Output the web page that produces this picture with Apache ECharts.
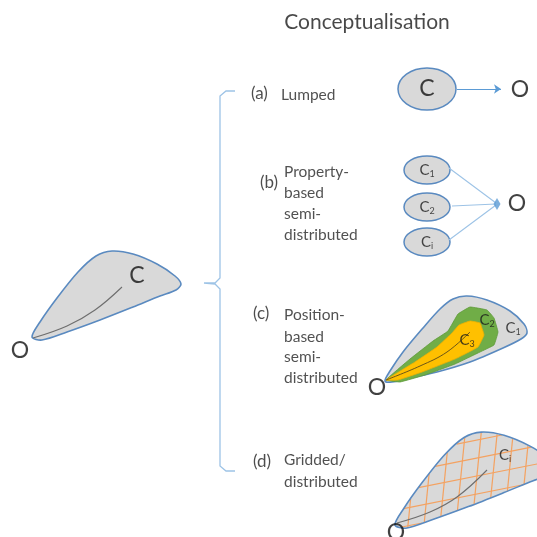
<!DOCTYPE html>
<html>
<head>
<meta charset="utf-8">
<title>Conceptualisation</title>
<script src="https://cdn.jsdelivr.net/npm/echarts@6/dist/echarts.min.js"></script>
<style>
html,body{margin:0;padding:0;background:#fff}
#main{width:537px;height:537px}
</style>
</head>
<body>
<div id="main"></div>
<script>
// catchment outline (main picture), tip = outlet
var catchment = [[32,337],[40,322],[57,298],[78,272],[96,256],[112,251],[133,254],[157,264],[175,276],[181,284],[176,290],[160,296],[133,307],[100,320],[67,332],[42,340]];
// where the same outline is copied for (d): [dx, dy, scale]
var placeD = [360.4, 161.0, 1.08];
// catchment and zones in (c)
var outlineC = [[385,381],[390,371],[403,352],[423,328],[440,309],[453,299],[467,296],[487,300],[510,311],[524,324],[527,333],[521,339],[503,348],[470,362],[437,372],[410,378],[392,382]];
var zoneC2 = [[386,380],[410,359],[433,341],[448,331],[458,314],[470,307],[487,310],[494,318],[498,332],[494,345],[480,352],[455,364],[425,375],[400,382]];
var zoneC3 = [[386,380],[415,362],[437,347],[452,333],[459,325],[470,321],[480,323],[484,335],[478,347],[455,359],[422,372],[398,380]];
// flow paths
var flowMain = [[33,338],[67,326],[95,310],[122,287]];
var flowC = [[386,380],[420,366],[447,352],[470,332]];
var flowD = [[397,523],[430,512],[457,497],[487,470]];
// grid cells in (d)
var gridColX = [381, 397, 413, 429, 445, 461, 477, 493, 509, 525, 541];
var gridRowY = [410, 428, 446, 464, 482, 500, 518, 536];
// brace
var brace = [[235,91],[226,91],[220,96],[220,278],[215,283],[204,283],[215,284],[220,289],[220,466],[226,471],[235,471]];
// (a) and (b)
var lumpedCell = [[427,89]];
var lumpedArrow = [[457,89],[501,89]];
var propertyCells = [[427,170],[427,207],[427,242]];
var propertyLinks = [[[449,168],[496,203]],[[452,206],[496,204]],[[449,240],[496,205]]];
var propertyOutlet = [[497,204]];
// texts
var titleText = [[367,22,'Conceptualisation']];
var bigLetters = [[427,89,'C'],[520,90,'O'],[517,204,'O'],[137,276,'C'],[20,351,'O'],[377,388,'O'],[396,533,'O']];
var caseLabels = [[251,94,'(a)'],[260,183,'(b)'],[253,314,'(c)'],[253,462,'(d)']];
var caseWords = [[281,95,'Lumped'],
  [284,172,'Property-'],[284,193,'based'],[284,214,'semi-'],[284,235,'distributed'],
  [284,315,'Position-'],[284,337,'based'],[284,357,'semi-'],[284,378,'distributed'],
  [284,460,'Gridded/'],[284,482,'distributed']];
var cellLabels = [[427,170,'C','1'],[427,207,'C','2'],[427,242,'C','i'],
  [513,328,'C','1'],[487,320,'C','2'],[467,340,'C','3'],[505,455,'C','i']];

var FONT = 'Lato';
var blue = '#5a8ac0';
var grey = '#d9d9d9';

function place(pts, p){
	return pts.map(function(q){ return [p[0] + p[2]*q[0], p[1] + p[2]*q[1]]; });
}
var outlineD = place(catchment, placeD);

// cut a straight line by a polygon, keep the inside pieces
function clipLine(poly, p, d){
	var ts = [];
	for (var i = 0; i < poly.length; i++) {
		var a = poly[i], b = poly[(i+1) % poly.length];
		var ex = b[0]-a[0], ey = b[1]-a[1];
		var den = d[0]*ey - d[1]*ex;
		if (Math.abs(den) < 1e-9) continue;
		var wx = a[0]-p[0], wy = a[1]-p[1];
		var t = (wx*ey - wy*ex)/den;
		var u = (wx*d[1] - wy*d[0])/den;
		if (u >= 0 && u < 1) ts.push(t);
	}
	ts.sort(function(m,n){ return m-n; });
	var segs = [];
	for (var k = 0; k+1 < ts.length; k += 2) {
		segs.push([[p[0]+ts[k]*d[0], p[1]+ts[k]*d[1]], [p[0]+ts[k+1]*d[0], p[1]+ts[k+1]*d[1]]]);
	}
	return segs;
}
var gridSegs = [];
gridColX.forEach(function(x){ gridSegs = gridSegs.concat(clipLine(outlineD, [x,475], [-0.1,1])); });
gridRowY.forEach(function(y){ gridSegs = gridSegs.concat(clipLine(outlineD, [447,y], [1,-0.2])); });

function polySeries(list, styles, smooth, closed){
	return {
		type: 'custom', coordinateSystem: 'cartesian2d', silent: true, animation: false,
		data: list.map(function(o,i){ return [i,0]; }),
		renderItem: function(params, api){
			var i = params.dataIndex;
			var pts = list[i].map(function(q){ return api.coord(q); });
			return {
				type: closed ? 'polygon' : 'polyline',
				shape: {points: pts, smooth: smooth},
				style: styles[i]
			};
		}
	};
}
function textSeries(data, size, color, pos){
	return {
		type: 'scatter', symbolSize: 0, silent: true, animation: false,
		data: data,
		label: {
			show: true, position: pos, distance: 0,
			fontFamily: FONT, fontSize: size, color: color,
			formatter: function(p){ return p.data[2]; }
		}
	};
}

var chart = echarts.init(document.getElementById('main'));
var option = {
	animation: false,
	grid: {left: 0, right: 0, top: 0, bottom: 0},
	xAxis: {type: 'value', min: 0, max: 537, show: false},
	yAxis: {type: 'value', min: 0, max: 537, inverse: true, show: false},
	series: [
		// catchments
		polySeries([catchment, outlineC, outlineD], [
			{fill: grey, stroke: blue, lineWidth: 1.6},
			{fill: grey, stroke: blue, lineWidth: 1.6},
			{fill: grey, stroke: null}
		], 0.3, true),
		// zones in (c)
		polySeries([zoneC2, zoneC3], [
			{fill: '#70ad47', stroke: '#5e9a3a', lineWidth: 0.8},
			{fill: '#ffc000', stroke: '#f0b000', lineWidth: 0.8}
		], 0.08, true),
		// grid cells
		{
			type: 'custom', coordinateSystem: 'cartesian2d', silent: true, animation: false,
			data: gridSegs.map(function(s,i){ return [i,0]; }),
			renderItem: function(params, api){
				var s = gridSegs[params.dataIndex];
				var a = api.coord(s[0]), b = api.coord(s[1]);
				return {type: 'line', shape: {x1: a[0], y1: a[1], x2: b[0], y2: b[1]},
					style: {stroke: '#f4a261', lineWidth: 1.2}};
			}
		},
		// outline of (d) on top of the grid
		polySeries([outlineD], [{fill: null, stroke: blue, lineWidth: 1.6}], 0.3, true),
		// flow paths
		polySeries([flowMain, flowC, flowD], [
			{stroke: '#6e6e6e', lineWidth: 1.1, fill: null},
			{stroke: '#5a4a1a', lineWidth: 0.9, fill: null},
			{stroke: '#6e6e6e', lineWidth: 1.1, fill: null}
		], 0.4, false),
		// brace
		polySeries([brace], [{stroke: '#9dc3e6', lineWidth: 1.3, fill: null}], 0, false),
		// cells (a) and (b)
		{
			type: 'custom', coordinateSystem: 'cartesian2d', silent: true, animation: false,
			data: lumpedCell.concat(propertyCells),
			renderItem: function(params, api){
				var c = api.coord([api.value(0), api.value(1)]);
				var big = params.dataIndex === 0;
				return {type: 'ellipse', shape: {cx: c[0], cy: c[1], rx: big ? 29 : 23, ry: big ? 21 : 14},
					style: {fill: grey, stroke: blue, lineWidth: 1.5}};
			}
		},
		// arrow in (a)
		{
			type: 'lines', coordinateSystem: 'cartesian2d', silent: true, animation: false,
			symbol: ['none', 'arrow'], symbolSize: 7,
			lineStyle: {color: '#5b9bd5', width: 1.2, opacity: 1},
			data: [{coords: lumpedArrow}]
		},
		// links in (b)
		{
			type: 'lines', coordinateSystem: 'cartesian2d', silent: true, animation: false,
			symbol: ['none', 'none'],
			lineStyle: {color: '#9dc3e6', width: 1.1, opacity: 1},
			data: propertyLinks.map(function(c){ return {coords: c}; })
		},
		{
			type: 'scatter', silent: true, animation: false, symbol: 'diamond', symbolSize: [7, 12],
			itemStyle: {color: '#5b9bd5'},
			data: propertyOutlet
		},
		// texts
		textSeries(titleText, 21, '#1a1a1a', 'inside'),
		textSeries(bigLetters, 23, '#111111', 'inside'),
		textSeries(caseLabels, 17, '#1f1f1f', 'right'),
		textSeries(caseWords, 15.5, '#262626', 'right'),
		{
			type: 'scatter', symbolSize: 0, silent: true, animation: false,
			data: cellLabels,
			label: {
				show: true, position: 'inside',
				formatter: function(p){ return '{c|' + p.data[2] + '}{s|' + p.data[3] + '}'; },
				rich: {
					c: {fontFamily: FONT, fontSize: 15, color: '#1a1a1a', lineHeight: 18},
					s: {fontFamily: FONT, fontSize: 9, color: '#1a1a1a', lineHeight: 18, verticalAlign: 'bottom', padding: [7, 0, 0, 0]}
				}
			}
		}
	]
};
chart.setOption(option);
</script>
</body>
</html>
